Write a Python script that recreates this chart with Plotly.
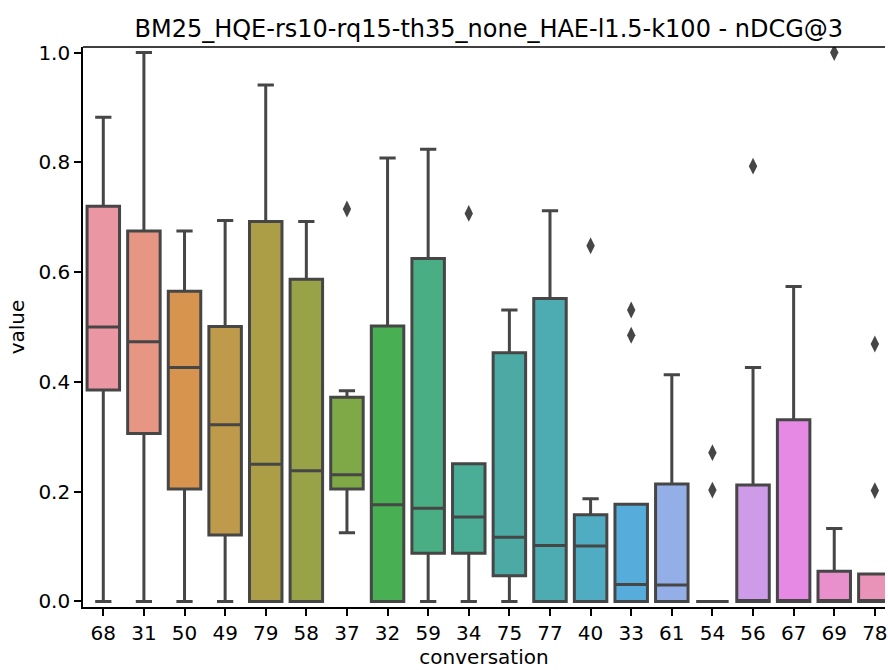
import math
import colorsys
import numpy as np
import plotly.graph_objects as go

# ---------------- data ----------------
conversations = ["68", "31", "50", "49", "79", "58", "37", "32", "59", "34",
                 "75", "77", "40", "33", "61", "54", "56", "67", "69", "78"]
q1 =     [0.385, 0.306, 0.205, 0.121, 0.0,   0.0,   0.205, 0.0,   0.088, 0.088,
          0.047, 0.0,   0.0,   0.0,   0.0,   0.0,   0.0,   0.0,   0.0,   0.0]
median = [0.500, 0.473, 0.426, 0.322, 0.250, 0.238, 0.231, 0.176, 0.170, 0.154,
          0.117, 0.102, 0.101, 0.031, 0.030, 0.0,   0.0,   0.0,   0.0,   0.0]
q3 =     [0.720, 0.675, 0.565, 0.501, 0.692, 0.587, 0.372, 0.502, 0.625, 0.251,
          0.453, 0.552, 0.158, 0.177, 0.214, 0.0,   0.212, 0.331, 0.055, 0.050]
lower =  [0.0,   0.0,   0.0,   0.0,   0.0,   0.0,   0.125, 0.0,   0.0,   0.0,
          0.0,   0.0,   0.0,   0.0,   0.0,   0.0,   0.0,   0.0,   0.0,   0.0]
upper =  [0.882, 1.000, 0.675, 0.694, 0.941, 0.692, 0.384, 0.808, 0.824, 0.251,
          0.531, 0.712, 0.187, 0.177, 0.413, 0.0,   0.426, 0.574, 0.133, 0.050]

outlier_conv = ["37", "34", "40", "33", "33", "54", "54", "56", "69", "78", "78"]
outlier_val =  [0.715, 0.707, 0.648, 0.531, 0.485, 0.271, 0.203, 0.793, 1.000, 0.469, 0.202]

y_ticks = [0.0, 0.2, 0.4, 0.6, 0.8, 1.0]
title_text = "BM25_HQE-rs10-rq15-th35_none_HAE-l1.5-k100 - nDCG@3"

# ---------------- seaborn-like husl palette ----------------
_m = [[3.2406, -1.5372, -0.4986],
      [-0.9689, 1.8758, 0.0415],
      [0.0557, -0.2040, 1.0570]]
_refY, _refU, _refV = 1.0, 0.19784, 0.46834
_lab_e, _lab_k = 0.008856, 903.3


def _max_chroma(L, H):
    hrad = math.radians(H)
    sinH, cosH = math.sin(hrad), math.cos(hrad)
    sub1 = (L + 16) ** 3 / 1560896.0
    sub2 = sub1 if sub1 > _lab_e else L / _lab_k
    result = float("inf")
    for m1, m2, m3 in _m:
        top = (0.99915 * m1 + 1.05122 * m2 + 1.14460 * m3) * sub2
        rb = 0.86330 * m3 - 0.17266 * m2
        lb = 0.12949 * m3 - 0.38848 * m1
        bottom = (rb * sinH + lb * cosH) * sub2
        for t in (0.0, 1.0):
            C = L * (top - 1.05122 * t) / (bottom + 0.17266 * sinH * t)
            if 0.0 < C < result:
                result = C
    return result


def _f_inv(t):
    return t ** 3 if t ** 3 > _lab_e else (116 * t - 16) / _lab_k


def _from_linear(c):
    return 12.92 * c if c <= 0.0031308 else 1.055 * c ** (1 / 2.4) - 0.055


def husl_to_rgb(H, S, L):
    C = _max_chroma(L, H) / 100.0 * S
    hrad = math.radians(H)
    U, V = math.cos(hrad) * C, math.sin(hrad) * C
    varY = _f_inv((L + 16) / 116.0)
    varU = U / (13.0 * L) + _refU
    varV = V / (13.0 * L) + _refV
    Y = varY * _refY
    X = 0.0 - (9.0 * Y * varU) / ((varU - 4.0) * varV - varU * varV)
    Z = (9.0 * Y - 15.0 * varV * Y - varV * X) / (3.0 * varV)
    rgb = [_from_linear(r[0] * X + r[1] * Y + r[2] * Z) for r in _m]
    return [min(max(c, 0.0), 1.0) for c in rgb]


def husl_palette(n, h=0.01, s=0.9, l=0.7):
    hues = np.linspace(0, 1, n + 1)[:-1]
    hues = ((hues + h) % 1) * 359
    return [husl_to_rgb(hh, s * 99, l * 99) for hh in hues]


def desaturate(rgb, prop):
    hh, ll, ss = colorsys.rgb_to_hls(*rgb)
    return colorsys.hls_to_rgb(hh, ll, ss * prop)


pal = [desaturate(c, 0.75) for c in husl_palette(len(conversations))]
lum = min(colorsys.rgb_to_hls(*c)[1] for c in pal) * 0.6
edge = "rgb({0},{0},{0})".format(int(round(lum * 255)))


def to_css(c):
    return "rgb({},{},{})".format(*[int(round(v * 255)) for v in c])


# ---------------- figure ----------------
fig = go.Figure()
for i, conv in enumerate(conversations):
    fig.add_trace(go.Box(
        x=[conv], q1=[q1[i]], median=[median[i]], q3=[q3[i]],
        lowerfence=[lower[i]], upperfence=[upper[i]],
        fillcolor=to_css(pal[i]),
        line=dict(color=edge, width=3),
        width=0.8, whiskerwidth=0.5,
        boxpoints=False, showlegend=False, hoverinfo="skip",
    ))

fig.add_trace(go.Scatter(
    x=outlier_conv, y=outlier_val, mode="markers",
    marker=dict(symbol="diamond-tall", size=12, color=edge,
                line=dict(width=0)),
    showlegend=False, hoverinfo="skip",
))

font_family = "DejaVu Sans"
fig.update_layout(
    width=888, height=670,
    margin=dict(l=83, r=0, t=47, b=63),
    paper_bgcolor="white", plot_bgcolor="white",
    boxmode="overlay",
    font=dict(family=font_family, size=20, color="black"),
    title=dict(text=title_text, x=0.506, xref="paper", xanchor="center",
               y=0.958, yref="container", yanchor="middle",
               font=dict(family=font_family, size=24, color="black")),
    xaxis=dict(type="category", categoryorder="array",
               categoryarray=conversations,
               range=[-0.5, 19.25],
               showline=True, linecolor="black", linewidth=1.6,
               ticks="outside", ticklen=7, tickwidth=1.6, tickcolor="black",
               showgrid=False, zeroline=False,
               title=dict(text="conversation", standoff=6,
                          font=dict(family=font_family, size=20)),
               tickfont=dict(family=font_family, size=20)),
    yaxis=dict(range=[-0.0101, 1.0101],
               tickvals=y_ticks, ticktext=["%.1f" % v for v in y_ticks],
               showline=True, linecolor="black", linewidth=1.6,
               ticks="outside", ticklen=7, tickwidth=1.6, tickcolor="black",
               showgrid=False, zeroline=False,
               title=dict(text="value", standoff=8,
                          font=dict(family=font_family, size=20)),
               tickfont=dict(family=font_family, size=20)),
    shapes=[dict(type="line", xref="paper", yref="paper", x0=0, x1=1,
                 y0=1, y1=1, line=dict(color="black", width=1.6))],
)

fig.write_html("out.html")
